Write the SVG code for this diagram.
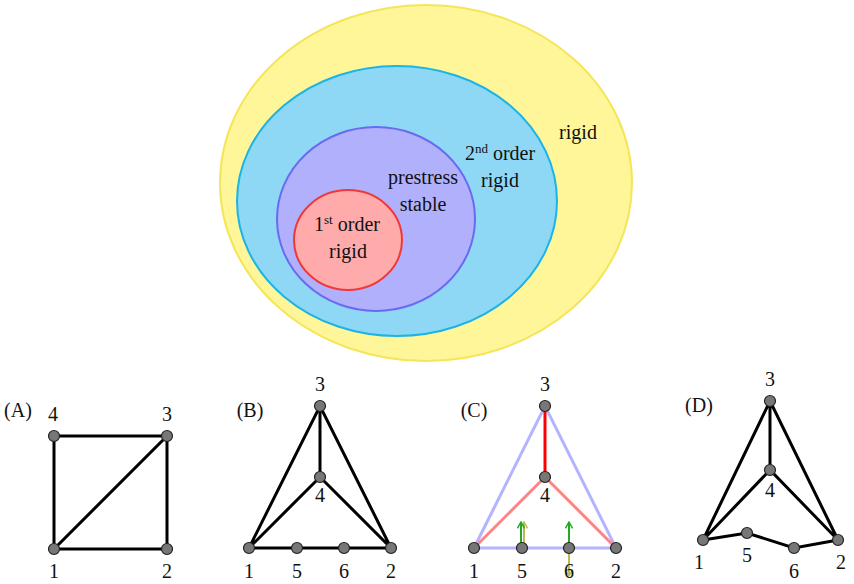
<svg xmlns="http://www.w3.org/2000/svg" width="854" height="584" viewBox="0 0 854 584">
<style>
text{font-family:"Liberation Serif","DejaVu Serif",serif;font-size:20px;fill:#111;text-anchor:middle}
.e{stroke:#000;stroke-width:3;fill:none}
.n{fill:#777;stroke:#222;stroke-width:1.2}
</style>
<defs>
<marker id="ag" viewBox="0 0 10 10" refX="9" refY="5" markerWidth="9" markerHeight="9" orient="auto" markerUnits="userSpaceOnUse"><path d="M2,1 L9,5 L2,9" fill="none" stroke="#2a2" stroke-width="1.6"/></marker>
<marker id="ao" viewBox="0 0 10 10" refX="9" refY="5" markerWidth="9" markerHeight="9" orient="auto" markerUnits="userSpaceOnUse"><path d="M2,1 L9,5 L2,9" fill="none" stroke="#bb5" stroke-width="1.6"/></marker>
</defs>
<g id="venn">
<ellipse cx="426" cy="183" rx="206" ry="178" fill="#fff599" stroke="#f5e55a" stroke-width="2"/>
<ellipse cx="397" cy="201" rx="160" ry="135" fill="#8ed8f5" stroke="#1ab4e6" stroke-width="2"/>
<ellipse cx="376" cy="219" rx="99" ry="92" fill="#b0b0fc" stroke="#6a6af0" stroke-width="2"/>
<ellipse cx="348" cy="240" rx="54" ry="50" fill="#ffabab" stroke="#f03838" stroke-width="2"/>
<text x="578" y="139">rigid</text>
<text x="500" y="160">2<tspan font-size="13" dy="-7">nd</tspan><tspan dy="7"> order</tspan></text>
<text x="500" y="187">rigid</text>
<text x="423" y="184">prestress</text>
<text x="423" y="211">stable</text>
<text x="347" y="231">1<tspan font-size="13" dy="-7">st</tspan><tspan dy="7"> order</tspan></text>
<text x="348" y="258">rigid</text>
</g>
<g id="connectors">
<path class="e" d="M54,436H167V549H54Z M54,549L167,436"/>
<path class="e" d="M249,548L320,406L391,548Z M320,406V477 M249,548L320,477L391,548"/>
<path d="M474,548L545,406L616,548Z" fill="none" stroke="#b3b3ff" stroke-width="3"/>
<path d="M545,406V477" stroke="#f00" stroke-width="3"/>
<path d="M474,548L545,477L616,548" fill="none" stroke="#ff8585" stroke-width="3"/>
<path class="e" d="M703,540L770,401L838,540 M770,401V470 M703,540L770,470L838,540 M703,540L747,533L794,548L838,540"/>
<path d="M524,548V522" stroke="#bb5" stroke-width="2" marker-end="url(#ao)"/>
<path d="M569,548V576" stroke="#bb5" stroke-width="2" marker-end="url(#ao)"/>
<path d="M521,548V522" stroke="#2a2" stroke-width="2" marker-end="url(#ag)"/>
<path d="M569,548V522" stroke="#2a2" stroke-width="2" marker-end="url(#ag)"/>
</g>
<g id="panelA">
<text x="18" y="417">(A)</text>
<circle class="n" cx="54" cy="436" r="5.5"/><circle class="n" cx="167" cy="436" r="5.5"/><circle class="n" cx="54" cy="549" r="5.5"/><circle class="n" cx="167" cy="549" r="5.5"/>
<text x="53" y="421">4</text><text x="167" y="421">3</text><text x="54" y="578">1</text><text x="167" y="578">2</text>
</g>
<g id="panelB">
<text x="250" y="417">(B)</text>
<circle class="n" cx="320" cy="406" r="5.5"/><circle class="n" cx="320" cy="477" r="5.5"/><circle class="n" cx="249" cy="548" r="5.5"/><circle class="n" cx="297" cy="548" r="5.5"/><circle class="n" cx="344" cy="548" r="5.5"/><circle class="n" cx="391" cy="548" r="5.5"/>
<text x="320" y="391">3</text><text x="320" y="502">4</text><text x="249" y="578">1</text><text x="297" y="578">5</text><text x="344" y="578">6</text><text x="391" y="578">2</text>
</g>
<g id="panelC">
<text x="474" y="417">(C)</text>
<circle class="n" cx="545" cy="406" r="5.5"/><circle class="n" cx="545" cy="477" r="5.5"/><circle class="n" cx="474" cy="548" r="5.5"/><circle class="n" cx="522" cy="548" r="5.5"/><circle class="n" cx="569" cy="548" r="5.5"/><circle class="n" cx="616" cy="548" r="5.5"/>
<text x="545" y="391">3</text><text x="545" y="502">4</text><text x="474" y="578">1</text><text x="522" y="578">5</text><text x="569" y="578">6</text><text x="616" y="578">2</text>
</g>
<g id="panelD">
<text x="699" y="412">(D)</text>
<circle class="n" cx="770" cy="401" r="5.5"/><circle class="n" cx="770" cy="470" r="5.5"/><circle class="n" cx="703" cy="540" r="5.5"/><circle class="n" cx="747" cy="533" r="5.5"/><circle class="n" cx="794" cy="548" r="5.5"/><circle class="n" cx="838" cy="540" r="5.5"/>
<text x="770" y="386">3</text><text x="770" y="497">4</text><text x="699" y="569">1</text><text x="747" y="562">5</text><text x="794" y="578">6</text><text x="841" y="569">2</text>
</g>
</svg>
